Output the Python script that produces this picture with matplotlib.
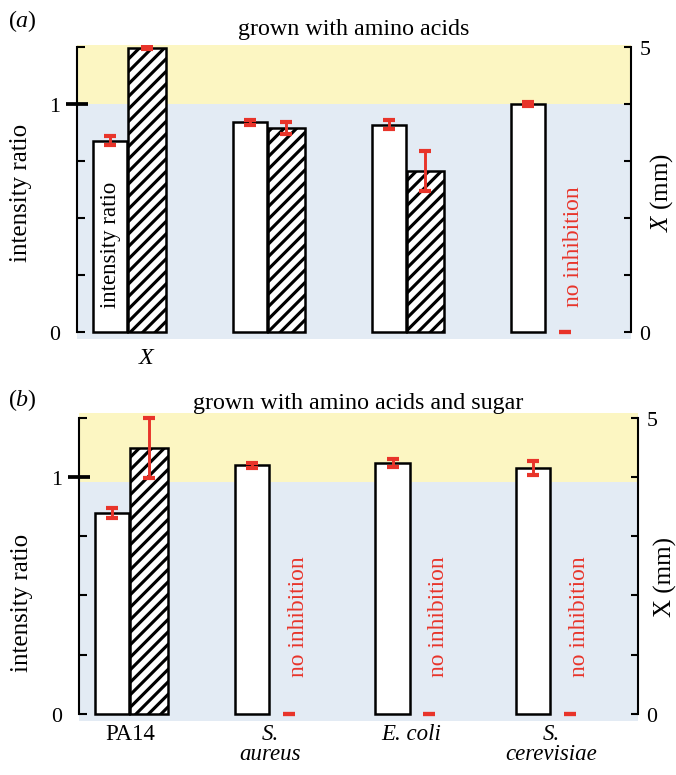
import numpy as np
import matplotlib
matplotlib.use('Agg')
import matplotlib.pyplot as plt

plt.rcParams['font.family'] = ['Liberation Serif', 'DejaVu Serif']
plt.rcParams['mathtext.fontset'] = 'custom'
plt.rcParams['mathtext.rm'] = 'Liberation Serif'
plt.rcParams['mathtext.it'] = 'Liberation Serif:italic'
plt.rcParams['hatch.linewidth'] = 1.5

# values
# (a) grown with amino acids
ratio_a = [0.84, 0.92, 0.91, 1.0]
ratio_a_err = [0.02, 0.012, 0.018, 0.008]
xmm_a = [4.98, 3.58, 2.83, 0.0]
xmm_a_err = [0.02, 0.11, 0.35, 0.0]
# (b) grown with amino acids and sugar
ratio_b = [0.848, 1.049, 1.059, 1.039]
ratio_b_err = [0.023, 0.01, 0.016, 0.03]
xmm_b = [4.49, 0.0, 0.0, 0.0]
xmm_b_err = [0.5, 0.0, 0.0, 0.0]
strains = ['PA14', 'S.\naureus', 'E. coli', 'S.\ncerevisiae']

yellow = '#fcf6c2'
blue = '#e3ebf4'
red = '#e8342a'

fig = plt.figure(figsize=(676 / 150, 776 / 150), dpi=150)
ax_a = fig.add_axes([0.1139, 0.562, 0.8195, 0.379])
ax_b = fig.add_axes([0.1169, 0.0696, 0.8269, 0.3969])


def panel(ax, ratio, ratio_err, xmm, xmm_err, top, band, no_inh, xlim):
    x = np.arange(len(ratio))
    ax.set_xlim(*xlim)
    ax.set_ylim(-0.03, top)
    ax.axhspan(band, top, color=yellow, lw=0, zorder=0)
    ax.axhspan(-0.03, band, color=blue, lw=0, zorder=0)
    ax.bar(x, ratio, width=0.245, color='white', edgecolor='black', linewidth=1.2, zorder=2)
    ax.errorbar(x, ratio, yerr=ratio_err, fmt='none', ecolor=red, elinewidth=1.4,
                capsize=3.0, capthick=2.0, zorder=3)

    tw = ax.twinx()
    tw.set_ylim(-0.12, top * 4)
    hx = x + 0.263
    show = np.array(xmm) > 0
    tw.bar(hx[show], np.array(xmm)[show], width=0.266, color='white', edgecolor='black',
           hatch='////', linewidth=1.2, zorder=2)
    tw.errorbar(hx, xmm, yerr=xmm_err, fmt='none', ecolor=red, elinewidth=1.4,
                capsize=3.0, capthick=2.0, zorder=3)
    for i in no_inh:
        ax.text(x[i] + 0.33, 0.115 if band == 1.0 else 0.16, 'no inhibition', color=red,
                rotation=90, ha='center', va='bottom', fontsize=11.3, zorder=4)

    # left axis
    for s in ['top', 'right', 'bottom']:
        ax.spines[s].set_visible(False)
    ax.spines['left'].set_bounds(0, 1.25)
    ax.spines['left'].set_linewidth(1.0)
    ax.set_yticks([0, 1])
    ax.set_yticklabels(['0', '1'])
    ax.set_yticks([0.25, 0.5, 0.75, 1.25], minor=True)
    ax.tick_params(axis='y', which='both', direction='in', length=3.8, width=1.0,
                   labelsize=10.5, pad=8)
    t1 = ax.yaxis.get_major_ticks()[1]
    t1.tick1line.set_marker('_')
    t1.tick1line.set_markersize(11)
    t1.tick1line.set_markeredgewidth(1.8)

    # right axis
    for s in ['top', 'left', 'bottom']:
        tw.spines[s].set_visible(False)
    tw.spines['right'].set_bounds(0, 5)
    tw.spines['right'].set_linewidth(1.0)
    tw.set_yticks(range(6))
    tw.set_yticklabels(['0', '', '', '', '', '5'])
    tw.tick_params(axis='y', direction='in', length=3.5, width=1.0, labelsize=10.5, pad=4)
    return x, tw


xa, tw_a = panel(ax_a, ratio_a, ratio_a_err, xmm_a, xmm_a_err, 1.26, 1.0, [3], (-0.24, 3.74))
ax_a.set_xticks([0.263])
ax_a.set_xticklabels(['$X$'], fontsize=11.5)
ax_a.tick_params(axis='x', length=0, pad=4)
ax_a.set_title('grown with amino acids', fontsize=11.5, pad=5)
ax_a.set_ylabel('intensity ratio', fontsize=12)
ax_a.yaxis.set_label_coords(-0.081, 0.5)
tw_a.set_ylabel('$X$ (mm)', fontsize=12, rotation=90)
tw_a.yaxis.set_label_coords(1.031, 0.5)
ax_a.text(0, 0.11, 'intensity ratio', rotation=90, ha='center', va='bottom',
          fontsize=11, zorder=4)

xb, tw_b = panel(ax_b, ratio_b, ratio_b_err, xmm_b, xmm_b_err, 1.27, 0.98, [1, 2, 3], (-0.235, 3.75))
ax_b.set_xticks(xb + 0.13)
ax_b.set_xticklabels(strains, fontsize=11, linespacing=0.95)
for lbl in ax_b.get_xticklabels()[1:]:
    lbl.set_style('italic')
ax_b.tick_params(axis='x', length=0, pad=1)
ax_b.set_title('grown with amino acids and sugar', fontsize=11.5, pad=1)
ax_b.set_ylabel('intensity ratio', fontsize=12)
ax_b.yaxis.set_label_coords(-0.082, 0.386)
tw_b.set_ylabel('X (mm)', fontsize=12, rotation=90)
tw_b.yaxis.set_label_coords(1.028, 0.47)

fig.text(0.012, 0.965, r'($\mathit{a}$)', fontsize=11.5)
fig.text(0.012, 0.477, r'($\mathit{b}$)', fontsize=11.5)

fig.savefig('out.png', dpi=150)
